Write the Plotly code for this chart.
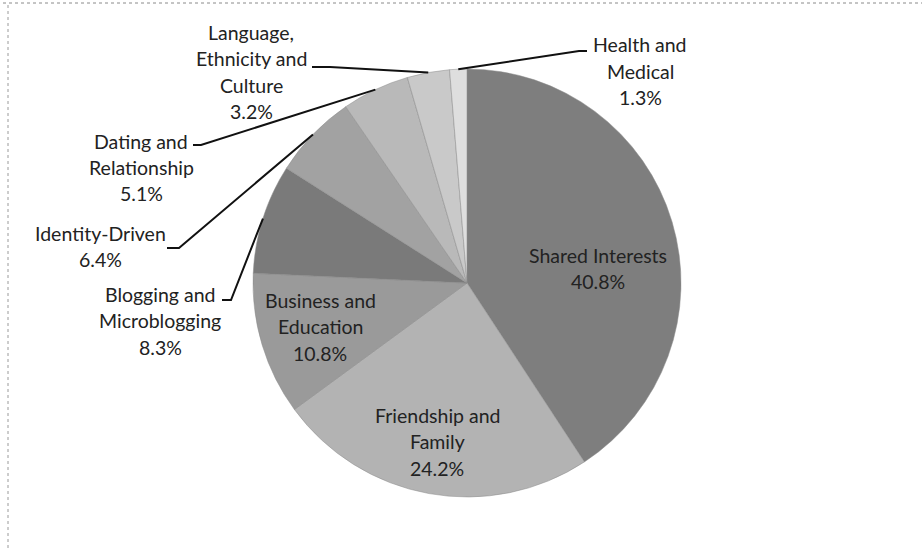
import plotly.graph_objects as go
import numpy as np

W, H = 922, 548

# ---- data ----
categories = ["Shared Interests", "Friendship and Family", "Business and Education",
              "Blogging and Microblogging", "Identity-Driven", "Dating and Relationship",
              "Language, Ethnicity and Culture", "Health and Medical"]
values = [40.8, 24.2, 10.8, 8.3, 6.4, 5.1, 3.2, 1.3]
label_lines = [
    ["Shared Interests"],
    ["Friendship and", "Family"],
    ["Business and", "Education"],
    ["Blogging and", "Microblogging"],
    ["Identity-Driven"],
    ["Dating and", "Relationship"],
    ["Language,", "Ethnicity and", "Culture"],
    ["Health and", "Medical"],
]
colors = ["#7e7e7e", "#b3b3b3", "#9a9a9a", "#7a7a7a", "#a2a2a2", "#b9b9b9", "#c9c9c9", "#dedede"]

# ---- layout geometry (pixels) ----
CX, CY, R = 467, 283, 214
# label block centre x, first line y, and leader start (text side) for each slice
label_pos = [
    (598, 255, None),
    (437, 415, None),
    (320, 300, None),
    (160, 294, (222, 300, 231)),
    (100, 233, (167, 248, 179)),
    (141, 141, (193, 145, 201)),
    (251, 32, (312, 67, 330)),
    (640, 45, (587, 51, 579)),
]
LINE_H = 26.5


def px(x):
    return x / W


def py(y):
    return 1 - y / H


fig = go.Figure(go.Pie(
    labels=categories, values=values, sort=False, direction="clockwise", rotation=0,
    marker=dict(colors=colors, line=dict(color="#8a8a8a", width=0.5)),
    textinfo="none", hoverinfo="label+percent", showlegend=False,
    domain=dict(x=[px(CX - R), px(CX + R)], y=[py(CY + R), py(CY - R)]),
))

annotations = []
shapes = []
total = sum(values)
cum = 0.0
for i, (cat, v) in enumerate(zip(categories, values)):
    mid = (cum + v / 2) / total
    cum += v
    ang = 2 * np.pi * mid
    ex, ey = CX + R * np.sin(ang), CY - R * np.cos(ang)
    lx, ly, lead = label_pos[i]
    lines = label_lines[i] + [f"{v:.1f}%"]
    for k, t in enumerate(lines):
        annotations.append(dict(
            x=px(lx), y=py(ly + k * LINE_H), xref="paper", yref="paper",
            text=t, showarrow=False, xanchor="center", yanchor="middle",
            font=dict(family="Lato", size=19.5, color="#222222"),
        ))
    if lead is not None:
        sx, sy, bx = lead
        shapes.append(dict(
            type="path", xref="paper", yref="paper",
            path=f"M {px(sx)} {py(sy)} L {px(bx)} {py(sy)} L {px(ex)} {py(ey)}",
            line=dict(color="#111111", width=2),
        ))

# chart frame (left and top edges visible)
shapes.append(dict(type="line", xref="paper", yref="paper", x0=px(8), x1=px(8), y0=0, y1=py(3),
                   line=dict(color="#9a9a9a", width=1, dash="dot")))
shapes.append(dict(type="line", xref="paper", yref="paper", x0=px(3), x1=1, y0=py(3), y1=py(3),
                   line=dict(color="#8a8a8a", width=1, dash="dot")))

fig.update_layout(
    width=W, height=H, margin=dict(l=0, r=0, t=0, b=0),
    paper_bgcolor="white", plot_bgcolor="white",
    annotations=annotations, shapes=shapes,
)
fig.write_html("out.html", config={"displayModeBar": False},
               post_script="document.body.style.margin='0px';")
